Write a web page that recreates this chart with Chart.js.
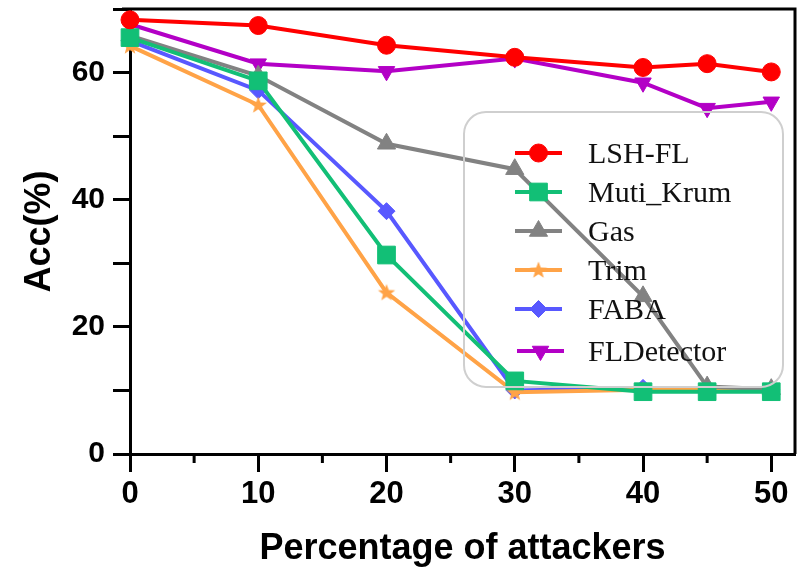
<!DOCTYPE html>
<html>
<head>
<meta charset="utf-8">
<script src="https://cdn.jsdelivr.net/npm/chart.js@4/dist/chart.umd.min.js"></script>
<style>
  html, body { margin: 0; padding: 0; background: #fff; }
  #wrap { width: 801px; height: 571px; }
</style>
</head>
<body>
<div id="wrap"><canvas id="grafica" width="801" height="571"></canvas></div>
<script>
// datos
const atacantes = [0, 10, 20, 30, 40, 45, 50];
const lshFl = [68.3, 67.4, 64.3, 62.4, 60.8, 61.4, 60.1];
const mutiKrum = [65.5, 58.7, 31.3, 11.5, 9.8, 9.8, 9.8];
const gas = [65.8, 59.5, 48.8, 44.8, 24.8, 10.6, 10.2];
const trim = [64.2, 54.9, 25.4, 9.7, 10.1, 10.1, 10.1];
const faba = [65.0, 57.2, 38.2, 10.0, 10.4, 10.4, 10.1];
const flDetector = [67.6, 61.4, 60.2, 62.2, 58.4, 54.4, 55.4];
const ticksX = [0, 10, 20, 30, 40, 50];

// estrella rellena para "Trim"
function hacerEstrella(color) {
  const c = document.createElement('canvas');
  c.width = 20; c.height = 20;
  const g = c.getContext('2d');
  g.fillStyle = color;
  g.beginPath();
  for (let i = 0; i < 10; i++) {
    const r = i % 2 === 0 ? 9 : 3.8;
    const a = -Math.PI / 2 + i * Math.PI / 5;
    const px = 10 + r * Math.cos(a), py = 10.5 + r * Math.sin(a);
    if (i === 0) g.moveTo(px, py); else g.lineTo(px, py);
  }
  g.closePath();
  g.fill();
  return c;
}

const pares = vals => vals.map((v, i) => ({ x: atacantes[i], y: v }));

function serie(label, vals, color, estilo, radio, rot) {
  return {
    label,
    data: pares(vals),
    borderColor: color,
    backgroundColor: color,
    pointBackgroundColor: color,
    pointBorderColor: color,
    borderWidth: 4,
    pointStyle: estilo,
    pointRadius: radio,
    pointHoverRadius: radio,
    pointBorderWidth: 1,
    pointRotation: rot || 0,
    tension: 0,
    clip: false
  };
}

const datasets = [
  serie('LSH-FL', lshFl, '#ff0000', 'circle', 9),
  serie('Muti_Krum', mutiKrum, '#12bf76', 'rect', 12.5),
  serie('Gas', gas, '#828282', 'triangle', 10.5),
  serie('Trim', trim, '#ffa347', hacerEstrella('#ffa347'), 9),
  serie('FABA', faba, '#5858ff', 'rectRot', 8.5),
  serie('FLDetector', flDetector, '#b300c6', 'triangle', 9.5, 180)
];

// marco superior/derecho y ticks menores del eje x
const marco = {
  id: 'marco',
  beforeDatasetsDraw(chart) {
    const { ctx, chartArea: a, scales } = chart;
    ctx.save();
    ctx.strokeStyle = '#000';
    ctx.lineWidth = 3;
    ctx.beginPath();
    ctx.moveTo(a.left - 8, a.top);
    ctx.lineTo(a.right, a.top);
    ctx.lineTo(a.right, a.bottom);
    ctx.stroke();
    ctx.beginPath();
    [5, 15, 25, 35, 45].forEach(v => {
      const px = scales.x.getPixelForValue(v);
      ctx.moveTo(px, a.bottom);
      ctx.lineTo(px, a.bottom + 9);
    });
    ctx.stroke();
    ctx.restore();
  }
};

// leyenda dentro del area
const leyenda = {
  id: 'leyenda',
  afterDatasetsDraw(chart) {
    const { ctx } = chart;
    const h = Chart.helpers;
    ctx.save();
    ctx.strokeStyle = '#cfcfcf';
    ctx.lineWidth = 2;
    ctx.beginPath();
    ctx.roundRect(464, 112, 319, 275, 22);
    ctx.stroke();
    chart.data.datasets.forEach((ds, i) => {
      const y = 153 + i * 39 + (i === 5 ? 3 : 0);
      const x0 = i === 5 ? 517 : 515;
      ctx.strokeStyle = ds.borderColor;
      ctx.lineWidth = 4;
      ctx.beginPath();
      ctx.moveTo(x0, y);
      ctx.lineTo(x0 + 47, y);
      ctx.stroke();
      ctx.fillStyle = ds.borderColor;
      ctx.lineWidth = 1;
      if (h && h.drawPoint) {
        h.drawPoint(ctx, { pointStyle: ds.pointStyle, rotation: ds.pointRotation, radius: ds.pointRadius, borderWidth: 1 }, x0 + 23.5, y);
      }
      ctx.fillStyle = '#111';
      ctx.font = '30px "Liberation Serif", "Times New Roman", serif';
      ctx.textBaseline = 'middle';
      ctx.textAlign = 'left';
      ctx.fillText(ds.label, 588, y + 2);
    });
    ctx.restore();
  }
};

const sinRelleno = s => { s.paddingTop = 0; s.paddingBottom = 0; s.paddingLeft = 0; s.paddingRight = 0; };
const fuenteEje = { family: '"Liberation Sans", Arial, sans-serif', weight: 'bold' };

new Chart(document.getElementById('grafica'), {
  type: 'line',
  data: { datasets },
  options: {
    responsive: false,
    animation: false,
    layout: { autoPadding: false, padding: { top: 9, right: 6, left: 0, bottom: 0 } },
    plugins: { legend: { display: false }, tooltip: { enabled: false } },
    scales: {
      x: {
        type: 'linear',
        min: 0,
        max: 51.85,
        afterBuildTicks: s => { s.ticks = ticksX.map(v => ({ value: v })); },
        afterFit: s => { s.height = 117; sinRelleno(s); },
        border: { color: '#000', width: 3 },
        grid: { display: true, drawOnChartArea: false, drawTicks: true, tickLength: 18, tickWidth: 3, tickColor: '#000' },
        ticks: { color: '#000', padding: 4, maxRotation: 0, font: { ...fuenteEje, size: 31 } },
        title: {
          display: true,
          text: 'Percentage of attackers',
          color: '#000',
          padding: { top: 0, bottom: 0 },
          font: { ...fuenteEje, size: 36 }
        }
      },
      y: {
        min: 0,
        max: 70,
        afterFit: s => { s.width = 130; sinRelleno(s); },
        border: { color: '#000', width: 3 },
        grid: { display: true, drawOnChartArea: false, drawTicks: true, tickLength: 17, tickWidth: 3, tickColor: '#000' },
        ticks: {
          stepSize: 10,
          color: '#000',
          padding: 8,
          font: { ...fuenteEje, size: 30 },
          callback: v => (v % 20 === 0 ? v : '')
        },
        title: {
          display: true,
          text: 'Acc(%)',
          color: '#000',
          padding: { top: 18, bottom: 0 },
          font: { ...fuenteEje, size: 36 }
        }
      }
    }
  },
  plugins: [marco, leyenda]
});
</script>
</body>
</html>
